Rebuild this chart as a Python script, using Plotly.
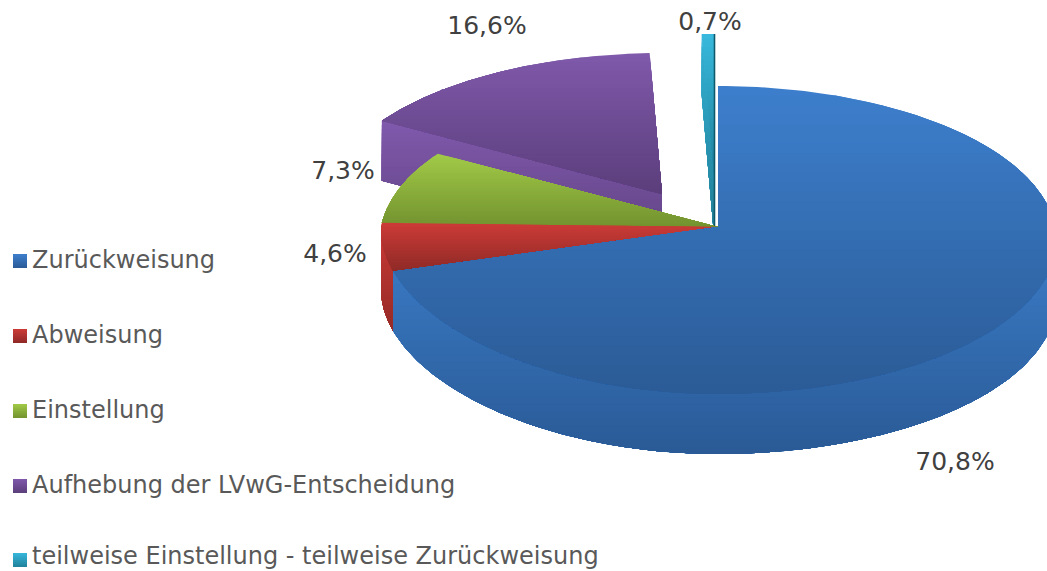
import numpy as np
import plotly.graph_objects as go

categories = ["Zurückweisung", "Abweisung", "Einstellung",
              "Aufhebung der LVwG-Entscheidung",
              "teilweise Einstellung - teilweise Zurückweisung"]
shares = [70.8, 4.6, 7.3, 16.6, 0.7]
labels = ["70,8%", "4,6%", "7,3%", "16,6%", "0,7%"]

# ---- style / geometry of the drawing ----
W, H = 1047, 571
R, TOP, BOT = 337.0, 141.0, 167.0   # rim extents around the pie centre
K = (BOT - TOP) / (BOT + TOP)
A = TOP * (1 + K)
DEPTH = 60.0
apex = [(718, 227), (718, 227), (718, 227), (662, 194), (714, 175)]
face_cols = [("#3d7fcd", "#2b5b96"), ("#cd3b37", "#8e2a27"), ("#a2ca48", "#72922f"),
             ("#8059ab", "#5b3e7b"), ("#38b9dd", "#20809a")]
wall_cols = [("#3c7eca", "#2a5a96"), ("#c93a36", "#952a26"), None,
             ("#8059ac", "#5e4180"), ("#36b2d5", "#1f7c94")]
label_pos = [(955, 464), (335, 256), (343, 173), (487, 28), (710, 24)]
legend_y = [262, 337, 412, 487, 558]
swatch_y = [261, 336, 411, 486, 560]

fig = go.Figure()


def rim(theta_deg, ax, ay):
    t = np.radians(theta_deg - 2.7 * np.sin(np.radians(2 * np.asarray(theta_deg, float))))
    w = 1 + K * np.cos(t)
    x = R * np.sin(t) / w
    # the front-left of the rim sits a little narrower than the perspective ellipse
    x = np.where((np.sin(t) < 0) & (np.cos(t) < 0), x * (1 + 0.07 * np.cos(t)), x)
    return ax + x, ay - A * np.cos(t) / w


def clip(xs, ys, y0, y1):
    pts = list(zip(xs, ys))
    for limit, sign in ((y0, 1), (y1, -1)):
        out = []
        for i in range(len(pts)):
            p, q = pts[i], pts[(i + 1) % len(pts)]
            dp, dq = sign * (p[1] - limit), sign * (q[1] - limit)
            if dp >= 0:
                out.append(p)
            if dp * dq < 0:
                f = dp / (dp - dq)
                out.append((p[0] + f * (q[0] - p[0]), p[1] + f * (q[1] - p[1])))
        pts = out
        if not pts:
            return [], []
    return [p[0] for p in pts], [p[1] for p in pts]


def mix(c0, c1, f):
    a = [int(c0[i:i + 2], 16) for i in (1, 3, 5)]
    b = [int(c1[i:i + 2], 16) for i in (1, 3, 5)]
    return "rgb(%d,%d,%d)" % tuple(round(u + f * (v - u)) for u, v in zip(a, b))


def gradient_poly(xs, ys, cols, bands=32):
    # painted top to bottom, each band reaching to the bottom of the shape: no seams
    y0, y1 = float(np.min(ys)), float(np.max(ys))
    edges = np.linspace(y0, y1, bands + 1)
    for i in range(bands):
        bx, by = clip(list(xs), list(ys), edges[i], y1)
        if len(bx) < 3:
            continue
        col = mix(cols[0], cols[1], (i + 0.5) / bands)
        fig.add_trace(go.Scatter(x=bx, y=by, mode="lines", fill="toself", fillcolor=col,
                                 line=dict(width=0), hoverinfo="skip", showlegend=False))


# angular extents derived from the values
ends = np.cumsum(shares) / sum(shares) * 360.0
starts = np.concatenate([[0.0], ends[:-1]])


def top_face(i):
    th = np.linspace(starts[i], ends[i], 160)
    x, y = rim(th, *apex[i])
    gradient_poly(np.r_[apex[i][0], x], np.r_[apex[i][1], y], face_cols[i])


def front_wall(i):
    lo, hi = max(starts[i], 90.0), min(ends[i], 270.0)
    th = np.linspace(lo, hi, 160)
    x, y = rim(th, *apex[i])
    gradient_poly(np.r_[x, x[::-1]], np.r_[y, y[::-1] + DEPTH], wall_cols[i])


def cut_face(i, theta):
    x, y = rim(float(theta), *apex[i])
    ax, ay = apex[i]
    gradient_poly([ax, float(x), float(x), ax],
                  [ay, float(y), float(y) + DEPTH, ay + DEPTH], wall_cols[i])


# back-to-front painting order
cut_face(3, starts[3])
top_face(3)
cut_face(4, starts[4])
top_face(4)
tx, ty = rim(float(ends[4]), *apex[4])
fig.add_trace(go.Scatter(x=[float(tx) + 0.5, apex[4][0] + 0.5], y=[float(ty), apex[4][1] + DEPTH],
                         mode="lines", line=dict(color="#0e5a6c", width=1.6),
                         hoverinfo="skip", showlegend=False))
top_face(2)
front_wall(1)
top_face(1)
front_wall(0)
top_face(0)

# value labels
fig.add_trace(go.Scatter(x=[p[0] for p in label_pos], y=[p[1] for p in label_pos], mode="text",
                         text=labels, textposition="middle center", cliponaxis=False,
                         textfont=dict(family="DejaVu Sans", size=25, color="#404040"),
                         hoverinfo="skip", showlegend=False))

# legend
for i, name in enumerate(categories):
    yc = swatch_y[i]
    gradient_poly([13, 27, 27, 13], [yc - 7, yc - 7, yc + 7, yc + 7], face_cols[i], bands=8)
fig.add_trace(go.Scatter(x=[32] * len(categories), y=legend_y, mode="text", text=categories,
                         textposition="middle right", cliponaxis=False,
                         textfont=dict(family="DejaVu Sans", size=24, color="#595959"),
                         hoverinfo="skip", showlegend=False))

fig.update_layout(width=W, height=H, margin=dict(l=0, r=0, t=0, b=0), showlegend=False,
                  paper_bgcolor="white", plot_bgcolor="white",
                  xaxis=dict(range=[0, W], visible=False),
                  yaxis=dict(range=[H, 0], visible=False))
fig.write_html("out.html", config={"displayModeBar": False},
               post_script="document.body.style.margin='0';document.body.style.overflow='hidden';")
